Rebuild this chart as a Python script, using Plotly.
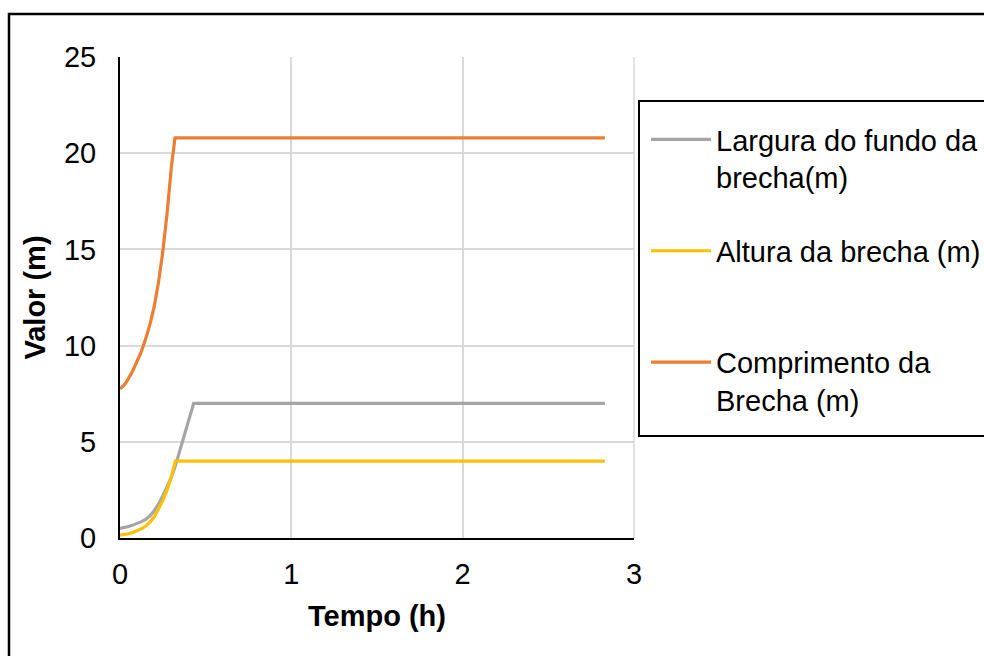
import plotly.graph_objects as go

# Data
t_largura = [0, 0.025, 0.05, 0.075, 0.1, 0.125, 0.15, 0.175, 0.2, 0.225, 0.25, 0.275, 0.3, 0.323, 0.43, 2.83]
largura = [0.5, 0.53, 0.6, 0.67, 0.75, 0.85, 0.97, 1.15, 1.42, 1.77, 2.2, 2.65, 3.15, 3.75, 7.0, 7.0]

t_altura = [0, 0.025, 0.05, 0.075, 0.1, 0.125, 0.15, 0.175, 0.2, 0.225, 0.25, 0.275, 0.3, 0.323, 2.83]
altura = [0.15, 0.18, 0.22, 0.29, 0.38, 0.48, 0.62, 0.83, 1.1, 1.5, 1.95, 2.5, 3.2, 4.0, 4.0]

t_comp = [0, 0.025, 0.05, 0.075, 0.1, 0.125, 0.15, 0.175, 0.2, 0.225, 0.25, 0.275, 0.3, 0.321, 2.83]
comprimento = [7.75, 7.95, 8.3, 8.7, 9.2, 9.7, 10.35, 11.1, 12.05, 13.3, 14.9, 16.9, 19.3, 20.8, 20.8]

names = ["Largura do fundo da<br>brecha(m)", "Altura da brecha (m)<br> ", "Comprimento da<br>Brecha (m)"]
colors = ["#A5A5A5", "#FFC000", "#ED7D31"]

FONT = "Liberation Sans, Arial, sans-serif"
FS = 29

fig = go.Figure()
for i, (tx, vy) in enumerate([(t_largura, largura), (t_altura, altura), (t_comp, comprimento)]):
    fig.add_trace(go.Scatter(x=tx, y=vy, mode="lines", name=names[i],
                             legendgroup=str(i),
                             line=dict(color=colors[i], width=3.2, shape="linear")))

W, H = 984, 656
L, R, T, B = 120, 634, 57, 538
pw, ph = R - L, B - T

def px_x(p):
    return (p - L) / pw

def px_y(p):
    return (B - p) / ph

fig.update_layout(
    width=W, height=H,
    margin=dict(l=L, r=W - R, t=T, b=H - B, autoexpand=False),
    paper_bgcolor="white", plot_bgcolor="white",
    font=dict(family=FONT, size=FS, color="black"),
    showlegend=True,
    legend=dict(x=px_x(646), y=px_y(114), xanchor="left", yanchor="top",
                borderwidth=0, bgcolor="rgba(0,0,0,0)",
                font=dict(family=FONT, size=FS, color="black"),
                valign="top", tracegroupgap=33, itemwidth=60),
    xaxis=dict(range=[0, 3], tickvals=[0, 1, 2, 3], showgrid=True, gridcolor="#D9D9D9",
               gridwidth=1.5, showline=True, linecolor="black", linewidth=2,
               zeroline=False, ticks="", ticklabelstandoff=9,
               title=dict(text="<b>Tempo (h)</b>", standoff=17, font=dict(size=FS)),
               automargin=False, tickfont=dict(size=FS)),
    yaxis=dict(range=[0, 25], tickvals=[0, 5, 10, 15, 20, 25], showgrid=True, gridcolor="#D9D9D9",
               gridwidth=1.5, showline=True, linecolor="black", linewidth=2,
               zeroline=False, ticks="", ticklabelstandoff=16,
               title=dict(text="<b>Valor (m)</b>", standoff=10, font=dict(size=FS)),
               automargin=False, tickfont=dict(size=FS)),
)

# right edge of plot area (light gray frame line)
fig.add_shape(type="line", xref="paper", yref="paper", x0=1, x1=1, y0=0, y1=1,
              line=dict(color="#D9D9D9", width=1.5), layer="below")
# legend frame
fig.add_shape(type="rect", xref="paper", yref="paper",
              x0=px_x(639), x1=px_x(1000), y0=px_y(101), y1=px_y(436),
              line=dict(color="black", width=2), fillcolor="rgba(0,0,0,0)", layer="above")
# outer chart border
fig.add_shape(type="rect", xref="paper", yref="paper",
              x0=px_x(9), x1=px_x(1000), y0=px_y(14), y1=px_y(680),
              line=dict(color="black", width=2.5), fillcolor="rgba(0,0,0,0)", layer="above")

fig.write_html("out.html")
